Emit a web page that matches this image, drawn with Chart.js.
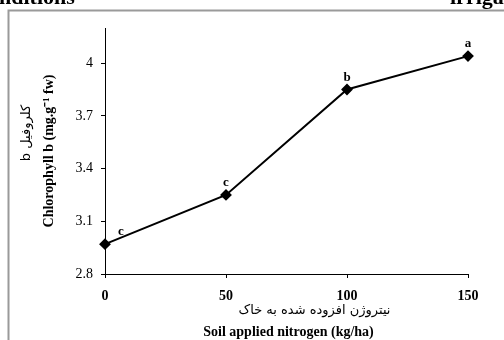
<!DOCTYPE html>
<html>
<head>
<meta charset="utf-8">
<script src="https://cdn.jsdelivr.net/npm/chart.js@4.4.1/dist/chart.umd.min.js"></script>
<style>
  html, body { margin: 0; padding: 0; background: #fff; overflow: hidden; }
  #wrap { position: relative; width: 504px; height: 340px; }
  .cut { position: absolute; font: bold 22px 'Liberation Serif', serif; line-height: 22px; color: #000; white-space: nowrap; }
  canvas { position: absolute; left: 0; top: 0; }
</style>
</head>
<body>
<div id="wrap">
  <canvas id="chlb" width="504" height="340"></canvas>
  <div class="cut" style="left:-1px; top:-14px;">nditions</div>
  <div class="cut" style="left:450px; top:-14px;">irriga</div>
</div>
<script>
// nitrogen doses (kg/ha) and chlorophyll b means
const doses = [0, 50, 100, 150];
const chlB = [2.97, 3.25, 3.85, 4.04];
const groups = ['c', 'c', 'b', 'a'];
const yTicks = [2.8, 3.1, 3.4, 3.7, 4];
const xTicks = [0, 50, 100, 150];

const serif = "'Liberation Serif', 'Times New Roman', serif";

// gray frame around the figure + axis titles + letter groups
const decor = {
    id: 'decor',
    beforeDraw(chart) {
        const ctx = chart.ctx;
        ctx.save();
        ctx.strokeStyle = '#9a9a9a';
        ctx.lineWidth = 2;
        ctx.strokeRect(8.5, 10.5, 600, 400);
        ctx.restore();
    },
    afterDraw(chart) {
        const ctx = chart.ctx;
        const a = chart.chartArea;
        const midX = (a.left + a.right) / 2;
        const midY = (a.top + a.bottom) / 2;
        ctx.save();
        ctx.fillStyle = '#000';
        ctx.textAlign = 'center';
        ctx.textBaseline = 'middle';

        // x titles
        ctx.font = "13px 'DejaVu Sans', sans-serif";
        ctx.fillText('نیتروژن افزوده شده به خاک', midX + 28, 311);
        ctx.font = 'bold 14px ' + serif;
        ctx.fillText('Soil applied nitrogen (kg/ha)', midX + 2, 332);

        // y titles (rotated)
        ctx.save();
        ctx.translate(49, midY);
        ctx.rotate(-Math.PI / 2);
        ctx.font = 'bold 14px ' + serif;
        ctx.fillText('Chlorophyll b (mg.g\u207B\u00B9 fw)', 0, 0);
        ctx.restore();

        ctx.save();
        ctx.translate(27, midY - 18);
        ctx.rotate(-Math.PI / 2);
        ctx.direction = 'rtl';
        ctx.font = "13px 'DejaVu Sans', sans-serif";
        ctx.fillText('کلروفیل b', 0, 0);
        ctx.restore();

        // significance letters above the points
        const meta = chart.getDatasetMeta(0);
        ctx.font = 'bold 13px ' + serif;
        meta.data.forEach((pt, i) => {
            const dx = i === 0 ? 16 : 0;
            ctx.fillText(groups[i], pt.x + dx, pt.y - 12);
        });
        ctx.restore();
    }
};

new Chart(document.getElementById('chlb'), {
    type: 'line',
    data: {
        datasets: [{
            data: doses.map((d, i) => ({ x: d, y: chlB[i] })),
            borderColor: '#000',
            backgroundColor: '#000',
            borderWidth: 2,
            pointStyle: 'rectRot',
            pointRadius: 4.5,
            tension: 0,
            clip: false
        }]
    },
    options: {
        responsive: false,
        animation: false,
        devicePixelRatio: 1,
        layout: { padding: { top: 28, right: 36, left: 0, bottom: 0 } },
        plugins: { legend: { display: false }, tooltip: { enabled: false } },
        scales: {
            x: {
                type: 'linear',
                min: 0,
                max: 150,
                afterBuildTicks: s => { s.ticks = xTicks.map(v => ({ value: v })); },
                afterFit: s => { s.height = 66; },
                grid: { drawOnChartArea: false, tickLength: 4, color: '#000' },
                border: { color: '#000', width: 1 },
                ticks: {
                    color: '#000',
                    padding: 10,
                    maxRotation: 0,
                    callback: v => String(v),
                    font: { family: serif, size: 14, weight: 'bold' }
                }
            },
            y: {
                min: 2.8,
                max: 4.2,
                afterBuildTicks: s => { s.ticks = yTicks.map(v => ({ value: v })); },
                afterFit: s => { s.width = 105; },
                grid: { drawOnChartArea: false, tickLength: 4, color: '#000' },
                border: { color: '#000', width: 1 },
                ticks: {
                    color: '#000',
                    padding: 8,
                    callback: v => String(v),
                    font: { family: serif, size: 14 }
                }
            }
        }
    },
    plugins: [decor]
});
</script>
</body>
</html>
